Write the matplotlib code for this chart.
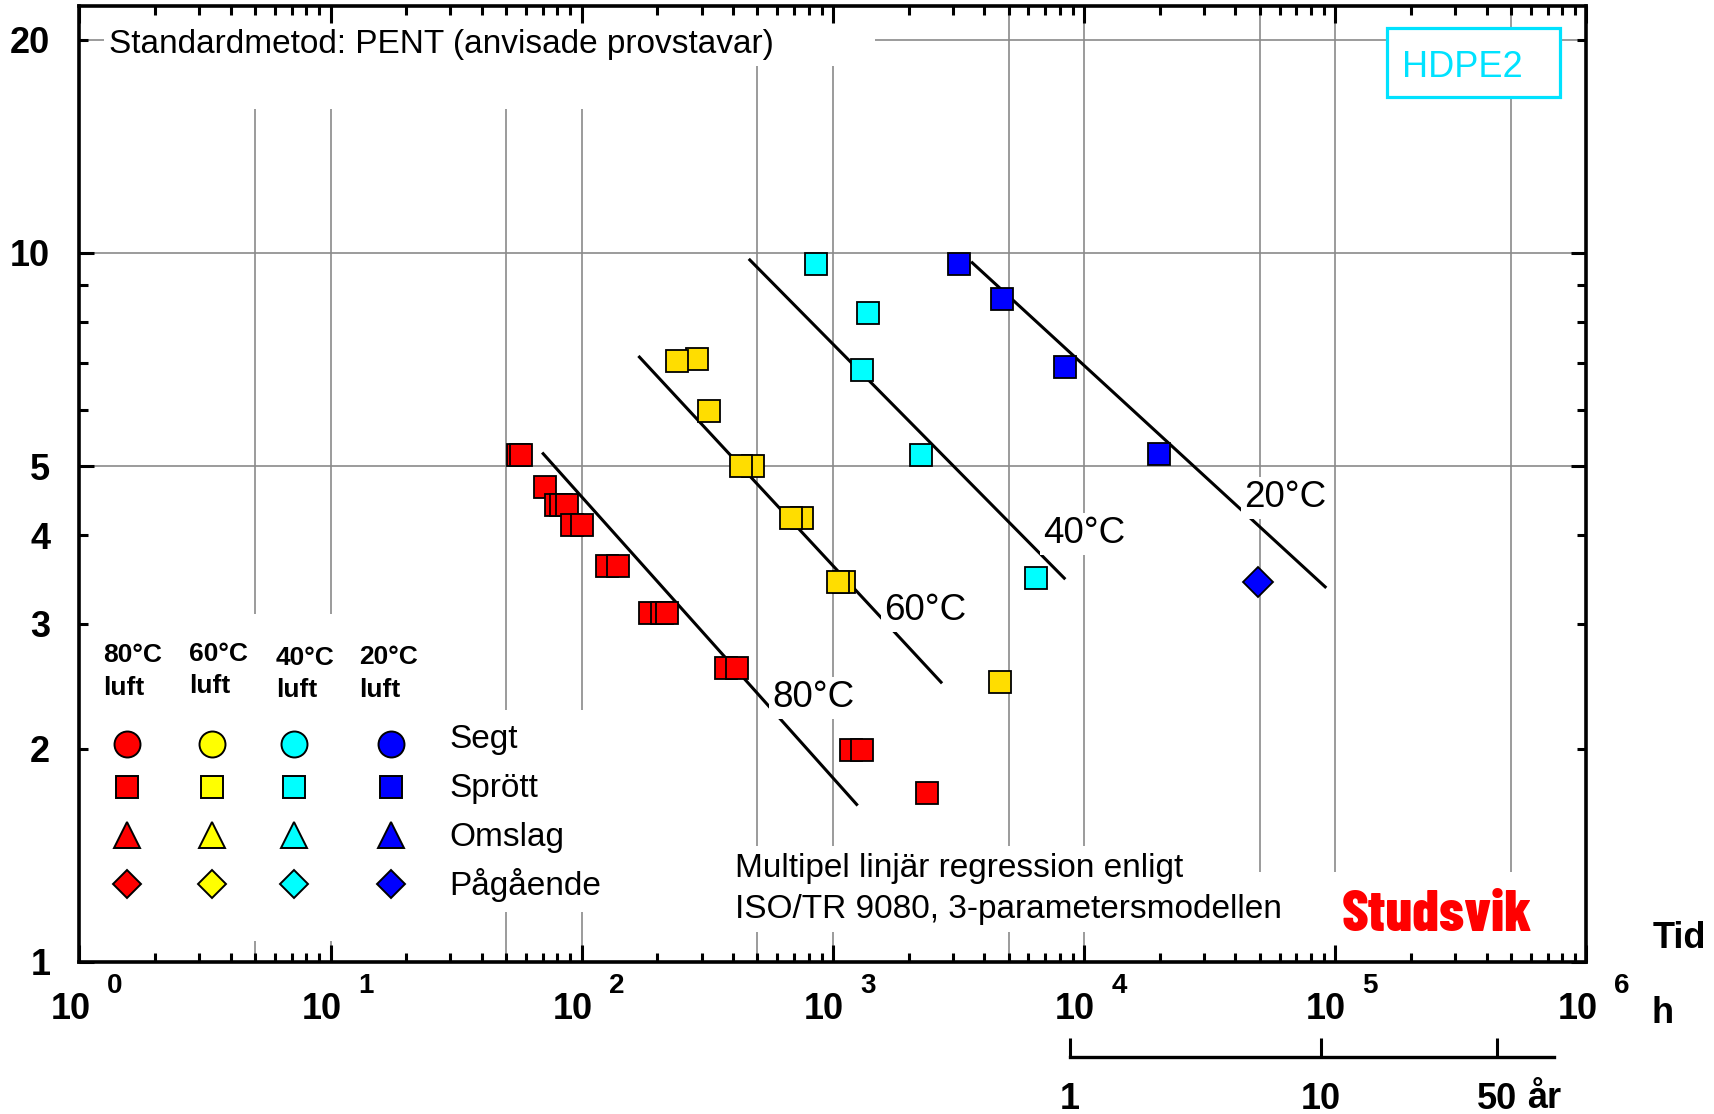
import numpy as np
import matplotlib
matplotlib.use('Agg')
import matplotlib.pyplot as plt
from matplotlib import font_manager as fm
from matplotlib.patches import Rectangle
from matplotlib.ticker import FixedLocator, NullLocator, NullFormatter, FixedFormatter

plt.rcParams['font.family'] = ['Liberation Sans', 'DejaVu Sans']

# ---------------- data ----------------
# time to failure [h] and stress [MPa]
t80 = [55.6, 57.1, 71.2, 78.7, 82.4, 87.4, 91.8, 100.4, 126.5, 139.9,
       187, 208, 218, 374, 415, 1177, 1307, 2377]
s80 = [5.19, 5.19, 4.67, 4.41, 4.41, 4.41, 4.14, 4.14, 3.62, 3.62,
       3.11, 3.11, 3.11, 2.60, 2.60, 1.99, 1.99, 1.73]
t60 = [286.6, 240.3, 320.6, 479, 431.8, 754, 678.6, 1107, 1051, 4637]
s60 = [7.09, 7.05, 5.98, 5.00, 5.00, 4.23, 4.23, 3.44, 3.44, 2.48]
t40 = [859, 1374, 1306, 2249, 6412]
s40 = [9.66, 8.24, 6.83, 5.19, 3.48]
t20 = [3177, 4718, 8365, 19870]
s20 = [9.66, 8.62, 6.91, 5.20]
t20_running = [49000]
s20_running = [3.44]

# regression lines (end points)
reg_t = {'80': [69.5, 1254], '60': [168, 2718], '40': [462, 8414], '20': [3548, 92050]}
reg_s = {'80': [5.23, 1.662], '60': [7.157, 2.472], '40': [9.81, 3.466], '20': [9.72, 3.37]}
reg_label = {'80': '80°C', '60': '60°C', '40': '40°C', '20': '20°C'}
label_t = {'80': 575, '60': 1602, '40': 6880, '20': 43450}
label_s = {'80': 2.287, '60': 3.036, '40': 3.895, '20': 4.378}

x_decades = [1, 10, 100, 1000, 1e4, 1e5, 1e6]
x_exponents = ['0', '1', '2', '3', '4', '5', '6']
y_major = [1, 5, 10]
y_major_labels = ['1', '5', '10']
y_minor = [2, 3, 4, 6, 7, 8, 9, 20]
y_minor_labels = ['2', '3', '4', '', '', '', '', '20']
grid_x = [5, 10, 50, 100, 500, 1000, 5000, 1e4, 5e4, 1e5, 5e5]
grid_y = [5, 10, 20]
year_ticks = [1, 10, 50]
year_labels = ['1', '10', '50']
HOURS_PER_YEAR = 8766.0

legend_temps = ['80°C', '60°C', '40°C', '20°C']
legend_colors = ['#FF0000', '#FFFF00', '#00FFFF', '#0000FF']
legend_kinds = ['Segt', 'Sprött', 'Omslag', 'Pågående']
legend_markers = ['o', 's', '^', 'D']

col_red, col_yel, col_cyan, col_blue = '#FF0000', '#FFDD00', '#00FFFF', '#0000FF'

# ---------------- figure ----------------
fig = plt.figure(figsize=(17.14, 11.14), dpi=100)
ax = fig.add_axes([0.04638, 0.13645, 0.87923, 0.85817])
ax.set_xscale('log')
ax.set_yscale('log')
ax.set_xlim(1, 1e6)
ax.set_ylim(1, 22.3)

for sp in ax.spines.values():
    sp.set_linewidth(2.6)

# ticks
ax.xaxis.set_major_locator(FixedLocator(x_decades))
ax.xaxis.set_minor_locator(FixedLocator([m * d for d in x_decades[:-1] for m in range(2, 10)]))
ax.xaxis.set_major_formatter(NullFormatter())
ax.xaxis.set_minor_formatter(NullFormatter())
ax.tick_params(axis='x', which='both', direction='in', top=True, bottom=True, width=2.2)
ax.tick_params(axis='x', which='major', length=12)
ax.tick_params(axis='x', which='minor', length=6.7)

ax.yaxis.set_major_locator(FixedLocator(y_major))
ax.yaxis.set_minor_locator(FixedLocator(y_minor))
ax.yaxis.set_major_formatter(FixedFormatter(y_major_labels))
ax.yaxis.set_minor_formatter(FixedFormatter(y_minor_labels))
ax.tick_params(axis='y', which='both', direction='in', left=True, right=True,
               width=2.2, labelsize=26, pad=21)
ax.tick_params(axis='y', which='major', length=11)
ax.tick_params(axis='y', which='minor', length=6.5)
for lab in ax.get_yticklabels(which='both'):
    lab.set_fontweight('bold')

# x tick labels: "10" with a separate exponent
xtr = ax.get_xaxis_transform()
for d, e in zip(x_decades, x_exponents):
    ax.annotate('10', xy=(d, 0), xycoords=xtr, xytext=(-6.5, -41), textcoords='offset points',
                ha='center', va='baseline', fontsize=26, fontweight='bold', annotation_clip=False)
    ax.annotate(e, xy=(d, 0), xycoords=xtr, xytext=(25.2, -22.3), textcoords='offset points',
                ha='center', va='baseline', fontsize=20, fontweight='bold', annotation_clip=False)

# grid lines
for gx in grid_x:
    ax.axvline(gx, color='#8a8a8a', lw=1.2, zorder=0.8)
for gy in grid_y:
    ax.axhline(gy, color='#8a8a8a', lw=1.2, zorder=0.8)

# white masks behind the text blocks (as in the original)
masks = [
    (0.01626, 0.93766, 0.5116, 0.06234),
    (0.01626, 0.89226, 0.3557, 0.0454),
    (0.0, 0.02197, 0.2591, 0.34205),
    (0.2591, 0.0523, 0.0896, 0.2113),
    (0.7767, 0.0, 0.1958, 0.0941),
]
for (x0, y0, w, h) in masks:
    ax.add_patch(Rectangle((x0, y0), w, h, transform=ax.transAxes, fc='white', ec='none', zorder=1))

# regression lines and their labels
for k in ['80', '60', '40', '20']:
    ax.plot(reg_t[k], reg_s[k], color='black', lw=2.2, solid_capstyle='butt', zorder=2)
    ax.text(label_t[k], label_s[k], reg_label[k], fontsize=26.5, ha='left', va='baseline', zorder=3,
            bbox=dict(boxstyle='square,pad=0.1', fc='white', ec='none'))

# data points
mk = dict(linestyle='none', marker='s', ms=15.5, mec='black', mew=1.3, zorder=5)
ax.plot(t80, s80, mfc=col_red, **mk)
ax.plot(t60, s60, mfc=col_yel, **mk)
ax.plot(t40, s40, mfc=col_cyan, **mk)
ax.plot(t20, s20, mfc=col_blue, **mk)
ax.plot(t20_running, s20_running, linestyle='none', marker='D', ms=15.2, mfc=col_blue,
        mec='black', mew=1.3, zorder=5)

# title text
ax.text(0.0199, 0.9505, 'Standardmetod: PENT (anvisade provstavar)', transform=ax.transAxes,
        fontsize=24, ha='left', va='baseline', zorder=3)

# HDPE2 box
ax.add_patch(Rectangle((0.8675, 0.9051), 0.1151, 0.0715, transform=ax.transAxes,
                       fc='white', ec='#00E2FF', lw=2.3, zorder=3))
ax.text(0.8779, 0.9254, 'HDPE2', transform=ax.transAxes, fontsize=26, color='#00E2FF',
        ha='left', va='baseline', zorder=4)

# regression note
for txt, yb in [('Multipel linjär regression enligt', 0.0892),
                ('ISO/TR 9080, 3-parametersmodellen', 0.0457)]:
    ax.text(0.435, yb, txt, transform=ax.transAxes, fontsize=24, ha='left', va='baseline',
            zorder=3, bbox=dict(boxstyle='square,pad=0.2', fc='white', ec='none'))

# Studsvik logo text (condensed heavy font if available)
def has_font(name):
    try:
        fm.findfont(fm.FontProperties(family=name, weight='bold'), fallback_to_default=False)
        return True
    except Exception:
        return False

if has_font('Barlow Condensed'):
    logo_fam, logo_size, logo_w = ['Barlow Condensed'], 42.5, 800
elif has_font('Liberation Sans Narrow'):
    logo_fam, logo_size, logo_w = ['Liberation Sans Narrow'], 38, 'bold'
else:
    logo_fam, logo_size, logo_w = ['Liberation Sans'], 32, 'bold'
ax.text(0.8378, 0.0324, 'Studsvik', transform=ax.transAxes, family=logo_fam, fontsize=logo_size,
        fontweight=logo_w, color='#FF0000', ha='left', va='baseline', zorder=4)

# custom legend
col_x = [0.03185, 0.08792, 0.14234, 0.20703]
row_y = [0.22772, 0.18337, 0.13316, 0.08128]
mk_size = {'o': 18.7, 's': 16.3, '^': 18.7, 'D': 14.5}
head_x = [0.01539, 0.07286, 0.13019, 0.18567]
head_y1 = [0.31412, 0.31517, 0.31067, 0.31172]
head_y2 = [0.27929, 0.28138, 0.27720, 0.27751]
for i, (temp, c) in enumerate(zip(legend_temps, legend_colors)):
    ax.text(head_x[i], head_y1[i], temp, transform=ax.transAxes, fontsize=19, fontweight='bold',
            ha='left', va='baseline', zorder=4)
    ax.text(head_x[i], head_y2[i], 'luft', transform=ax.transAxes, fontsize=19, fontweight='bold',
            ha='left', va='baseline', zorder=4)
    for j, m in enumerate(legend_markers):
        ax.plot([col_x[i]], [row_y[j]], transform=ax.transAxes, linestyle='none', marker=m,
                ms=mk_size[m], mfc=c, mec='black', mew=1.4, zorder=5, clip_on=False)
lab_y = [0.22416, 0.17291, 0.12134, 0.07008]
for j, kind in enumerate(legend_kinds):
    ax.text(0.24539, lab_y[j], kind, transform=ax.transAxes, fontsize=24, ha='left',
            va='baseline', zorder=4)

# secondary time scale in years
sec = ax.secondary_xaxis(-0.0991, functions=(lambda h: h / HOURS_PER_YEAR,
                                              lambda y: y * HOURS_PER_YEAR))
sec.xaxis.set_major_locator(FixedLocator(year_ticks))
sec.xaxis.set_major_formatter(FixedFormatter(year_labels))
sec.xaxis.set_minor_locator(NullLocator())
sec.tick_params(axis='x', which='major', direction='in', length=14, width=2.2, labelsize=26, pad=18)
sec.spines['bottom'].set_linewidth(2.4)
sec.spines['bottom'].set_bounds(1, 84.4)
for lab in sec.get_xticklabels():
    lab.set_fontweight('bold')

fig.text(0.8909, 0.0054, 'år', fontsize=26, fontweight='bold', ha='left', va='baseline')
fig.text(0.9644, 0.149, 'Tid', fontsize=26, fontweight='bold', ha='left', va='baseline')
fig.text(0.9638, 0.0817, 'h', fontsize=26, fontweight='bold', ha='left', va='baseline')

fig.savefig('out.png', dpi=100)
